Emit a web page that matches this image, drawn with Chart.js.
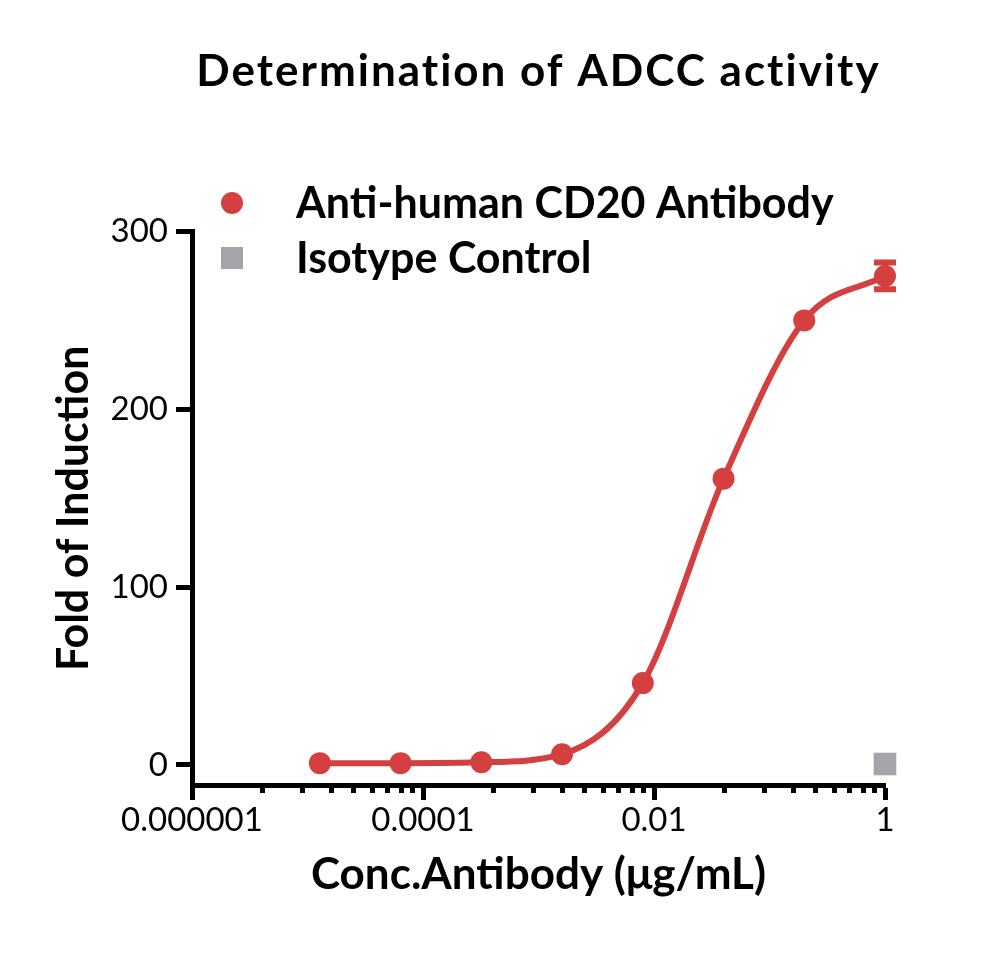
<!DOCTYPE html>
<html lang="en">
<head>
    <meta charset="UTF-8">
    <title>Determination of ADCC activity</title>
    <script src="https://cdn.jsdelivr.net/npm/chart.js"></script>
    <style>
        body { margin: 0; background: #fff; }
        #wrap { width: 1000px; height: 961px; }
    </style>
</head>
<body>
<div id="wrap">
    <canvas id="myChart" width="1000" height="961"></canvas>
</div>
<script>
    // concentrations (ug/mL), 5-fold dilution
    const conc = [0.0000128, 0.000064, 0.00032, 0.0016, 0.008, 0.04, 0.2, 1];
    const antiCD20 = [1.0, 1.0, 1.5, 6, 46, 161, 250, 275];
    const antiCD20Err = [0, 0, 0, 0, 0, 0, 0, 7.5];
    const isoConc = [1];
    const isotype = [0.5];

    const xMajor = [0.000001, 0.0001, 0.01, 1];
    const xLabels = ['0.000001', '0.0001', '0.01', '1'];
    const xMinor = [
        0.000004, 0.000009, 0.000016, 0.000025, 0.000036, 0.000049, 0.000064, 0.000081,
        0.0004, 0.0009, 0.0016, 0.0025, 0.0036, 0.0049, 0.0064, 0.0081,
        0.04, 0.09, 0.16, 0.25, 0.36, 0.49, 0.64, 0.81
    ];
    const yTicks = [0, 100, 200, 300];

    const red = '#d4403f';
    const grey = '#a4a4a9';

    Chart.defaults.font.family = 'Lato';
    Chart.defaults.color = '#000';

    // title, legend, minor ticks and error bars
    const extras = {
        id: 'extras',
        afterDatasetsDraw(chart) {
            const ctx = chart.ctx;
            const x = chart.scales.x;
            const y = chart.scales.y;

            // error bars
            ctx.save();
            ctx.strokeStyle = red;
            ctx.lineWidth = 6;
            for (let i = 0; i < conc.length; i++) {
                if (!antiCD20Err[i]) continue;
                const px = x.getPixelForValue(conc[i]);
                const top = y.getPixelForValue(antiCD20[i] + antiCD20Err[i]);
                const bot = y.getPixelForValue(antiCD20[i] - antiCD20Err[i]);
                ctx.beginPath();
                ctx.moveTo(px, top); ctx.lineTo(px, bot);
                ctx.moveTo(px - 11, top); ctx.lineTo(px + 11, top);
                ctx.moveTo(px - 11, bot); ctx.lineTo(px + 11, bot);
                ctx.stroke();
            }
            ctx.restore();
        },
        afterDraw(chart) {
            const ctx = chart.ctx;
            const x = chart.scales.x;
            const area = chart.chartArea;

            // minor ticks
            ctx.save();
            ctx.strokeStyle = '#000';
            ctx.lineWidth = 5;
            ctx.beginPath();
            xMinor.forEach(v => {
                const px = Math.round(x.getPixelForValue(v)) + 0.5;
                ctx.moveTo(px, area.bottom);
                ctx.lineTo(px, area.bottom + 8);
            });
            ctx.stroke();

            // title
            ctx.fillStyle = '#000';
            ctx.font = 'bold 44px Lato';
            ctx.letterSpacing = '2px';
            ctx.textAlign = 'center';
            ctx.textBaseline = 'alphabetic';
            ctx.fillText('Determination of ADCC activity', (area.left + area.right) / 2, 86);
            ctx.letterSpacing = '0px';

            // legend
            ctx.fillStyle = red;
            ctx.beginPath();
            ctx.arc(232, 203, 11, 0, Math.PI * 2);
            ctx.fill();
            ctx.fillStyle = grey;
            ctx.fillRect(221, 247, 22, 22);

            ctx.fillStyle = '#000';
            ctx.textAlign = 'left';
            ctx.font = 'bold 43px Lato';
            ctx.fillText('Anti-human CD20 Antibody', 296, 218);
            ctx.fillText('Isotype Control', 296, 273);
            ctx.restore();
        }
    };

    new Chart(document.getElementById('myChart'), {
        type: 'line',
        data: {
            datasets: [{
                label: 'Anti-human CD20 Antibody',
                data: conc.map((c, i) => ({x: c, y: antiCD20[i]})),
                borderColor: red,
                backgroundColor: red,
                borderWidth: 6,
                pointRadius: 11,
                pointHoverRadius: 11,
                pointBorderWidth: 0,
                cubicInterpolationMode: 'monotone',
                clip: false
            }, {
                label: 'Isotype Control',
                data: isoConc.map((c, i) => ({x: c, y: isotype[i]})),
                showLine: false,
                borderColor: grey,
                backgroundColor: grey,
                pointStyle: 'rect',
                pointRadius: 16,
                pointHoverRadius: 16,
                pointBorderWidth: 0,
                clip: false
            }]
        },
        options: {
            responsive: false,
            animation: false,
            events: [],
            layout: {
                padding: {left: 0, right: 115, top: 231.5, bottom: 0}
            },
            plugins: {
                legend: {display: false},
                title: {display: false},
                tooltip: {enabled: false}
            },
            scales: {
                x: {
                    type: 'logarithmic',
                    min: 0.000001,
                    max: 1,
                    afterBuildTicks(scale) {
                        scale.ticks = xMajor.map(v => ({value: v}));
                    },
                    afterFit(scale) {
                        scale.height = 176;
                    },
                    border: {color: '#000', width: 5},
                    grid: {
                        drawOnChartArea: false,
                        tickLength: 15,
                        tickWidth: 5,
                        tickColor: '#000'
                    },
                    ticks: {
                        autoSkip: false,
                        maxRotation: 0,
                        padding: 1,
                        font: {size: 33},
                        callback: function (value) {
                            const i = xMajor.indexOf(value);
                            return i >= 0 ? xLabels[i] : '';
                        }
                    },
                    title: {
                        display: true,
                        text: 'Conc.Antibody (μg/mL)',
                        font: {size: 44, weight: 'bold'},
                        padding: {top: 0, bottom: 60}
                    }
                },
                y: {
                    min: -11.3,
                    max: 300,
                    afterBuildTicks(scale) {
                        scale.ticks = yTicks.map(v => ({value: v}));
                    },
                    afterFit(scale) {
                        scale.width = 192;
                    },
                    border: {color: '#000', width: 5},
                    grid: {
                        drawOnChartArea: false,
                        tickLength: 16,
                        tickWidth: 5,
                        tickColor: '#000'
                    },
                    ticks: {
                        padding: 8,
                        font: {size: 33}
                    },
                    title: {
                        display: true,
                        text: 'Fold of Induction',
                        font: {size: 43, weight: 'bold'},
                        padding: {top: 48, bottom: 0}
                    }
                }
            }
        },
        plugins: [extras]
    });
</script>
</body>
</html>
